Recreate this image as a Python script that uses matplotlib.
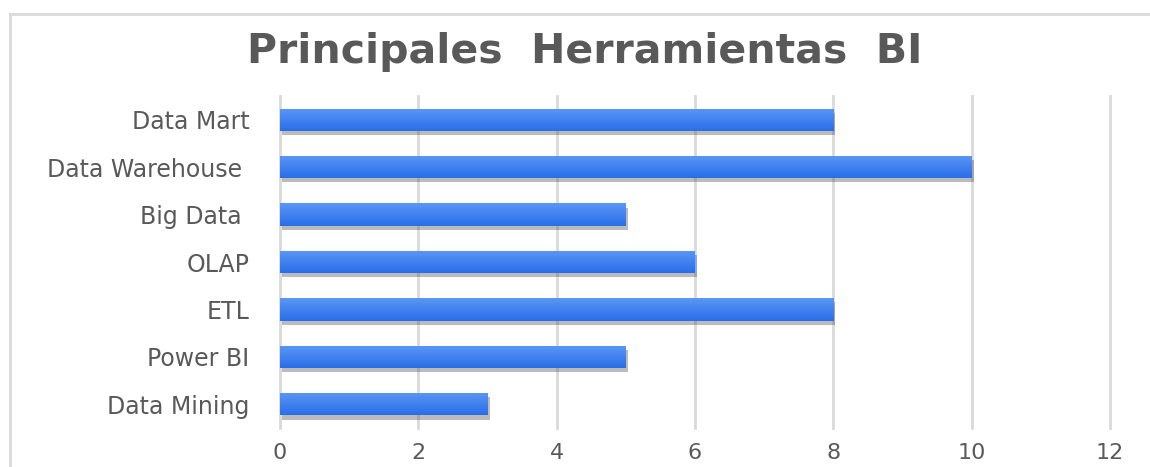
import matplotlib
matplotlib.use("Agg")
import matplotlib.pyplot as plt
import matplotlib.patheffects as pe
from matplotlib.lines import Line2D
from matplotlib.colors import LinearSegmentedColormap
import numpy as np

categories = ["Data Mart", "Data Warehouse ", "Big Data ", "OLAP", "ETL", "Power BI", "Data Mining"]
values = [8, 10, 5, 6, 8, 5, 3]
xticks = [0, 2, 4, 6, 8, 10, 12]
title = "Principales  Herramientas  BI"

plt.rcParams['font.family'] = ['DejaVu Sans']

fig = plt.figure(figsize=(11.5, 4.67), dpi=100)
ax = fig.add_axes([0.2435, 0.0835, 0.7217, 0.7109])

ypos = np.arange(len(categories))
bars = ax.barh(ypos, values, height=0.47, color="#3b7ff0", zorder=3,
               path_effects=[pe.SimplePatchShadow(offset=(1.5, -3), shadow_rgbFace="#555555", alpha=0.4),
                             pe.Normal()])

# gradient overlay clipped to each bar
grad = np.linspace(0, 1, 64).reshape(-1, 1)
cmap = LinearSegmentedColormap.from_list("g", ["#5b97f6", "#2a6ee8"])
for b in bars:
    x0, y0 = b.get_x(), b.get_y()
    w, h = b.get_width(), b.get_height()
    im = ax.imshow(grad, extent=(x0, x0 + w, y0 + h, y0), aspect="auto", cmap=cmap,
                   origin="upper", zorder=4, interpolation="bilinear")
    im.set_clip_path(b)

ax.set_ylim(len(categories) - 0.5, -0.5)
ax.set_xlim(0, 12)
ax.set_xticks(xticks)
ax.set_yticks(ypos)
ax.set_yticklabels(categories)
ax.tick_params(axis="both", length=0, colors="#595959")
ax.tick_params(axis="y", labelsize=17, pad=22)
ax.tick_params(axis="x", labelsize=16, pad=11)
for s in ax.spines.values():
    s.set_visible(False)
ax.grid(axis="x", color="#d9d9d9", linewidth=2, zorder=0)
ax.set_axisbelow(True)
for gl in ax.get_xgridlines():
    gl.set_clip_on(False)

fig.text(0.508, 0.889, title, ha="center", va="center", fontsize=29.5,
         fontweight="bold", color="#595959")

# outer border
fig.add_artist(Line2D([10 / 1150, 1.0], [1 - 14 / 467, 1 - 14 / 467],
                      transform=fig.transFigure, color="#d9d9d9", linewidth=2))
fig.add_artist(Line2D([10 / 1150, 10 / 1150], [0, 1 - 14 / 467],
                      transform=fig.transFigure, color="#d9d9d9", linewidth=2))

fig.savefig("out.png", dpi=100)
